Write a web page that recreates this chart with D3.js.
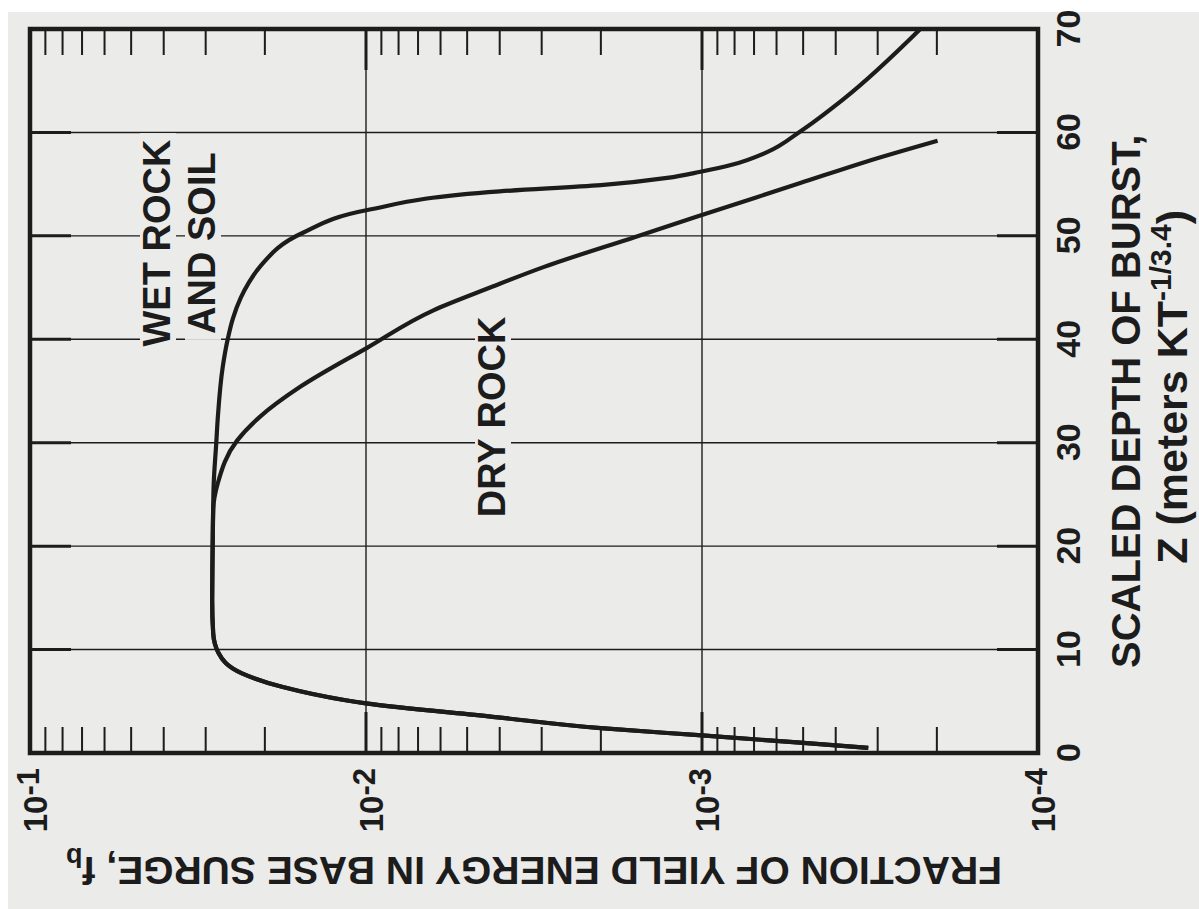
<!DOCTYPE html>
<html>
<head>
<meta charset="utf-8">
<script src="https://cdn.jsdelivr.net/npm/d3@7/dist/d3.min.js"></script>
<style>
  body { margin: 0; background: #fff; }
  svg text { font-family: "Liberation Sans", Arial, Helvetica, sans-serif; font-weight: bold; fill: #1c1c1c; }
</style>
</head>
<body>
<div id="chart"></div>
<script>
// tick labels
var zTicks = [0, 10, 20, 30, 40, 50, 60, 70];
var fTicks = [1e-1, 1e-2, 1e-3, 1e-4];
var fTickExp = ["-1", "-2", "-3", "-4"];

// wet rock and soil
var wetZ = [0.5, 1.0, 1.7, 2.4, 3.5, 4.8, 5.1, 6.4, 7.7, 9.7, 11.6, 14.8, 20, 23.5, 26, 30, 32.5, 37.3, 40, 42, 44, 45.5, 47, 50.3, 52.5, 54.3, 54.9, 55.6, 56.2, 56.9, 58.1, 60.1, 63.2, 70];
var wetF = [3.2e-4, 5.1e-4, 1.0e-3, 2.0e-3, 4.2e-3, 1.0e-2, 1.15e-2, 1.78e-2, 2.34e-2, 2.75e-2, 2.85e-2, 2.87e-2, 2.86e-2, 2.85e-2, 2.84e-2, 2.79e-2, 2.76e-2, 2.67e-2, 2.58e-2, 2.49e-2, 2.36e-2, 2.23e-2, 2.07e-2, 1.54e-2, 9.9e-3, 4.0e-3, 2.0e-3, 1.27e-3, 1.01e-3, 8.1e-4, 6.4e-4, 5.1e-4, 3.8e-4, 2.24e-4];

// dry rock
var dryZ = [0.5, 1.0, 1.7, 2.4, 3.5, 4.8, 5.1, 6.4, 7.7, 9.7, 11.6, 14.8, 20, 23.5, 26.1, 30.2, 32.5, 35.4, 39.2, 42.8, 45, 47, 49.9, 51.8, 55.1, 57.2, 59.2];
var dryF = [3.2e-4, 5.1e-4, 1.0e-3, 2.0e-3, 4.2e-3, 1.0e-2, 1.15e-2, 1.78e-2, 2.34e-2, 2.75e-2, 2.85e-2, 2.87e-2, 2.86e-2, 2.85e-2, 2.76e-2, 2.42e-2, 2.07e-2, 1.57e-2, 9.9e-3, 6.3e-3, 4.27e-3, 2.95e-3, 1.58e-3, 1.05e-3, 5.1e-4, 3.23e-4, 1.99e-4];

var width = 1199, height = 909;
var plotW = 724;   // along Z
var plotH = 1008;  // along f (3 decades)
var ink = "#1c1c1c";
var paper = "#ebebea";

var svg = d3.select("#chart").append("svg")
    .attr("width", width)
    .attr("height", height);

// paper of the scan
svg.append("rect")
    .attr("x", 8).attr("y", 12)
    .attr("width", width - 8).attr("height", height - 12)
    .attr("fill", paper);

// the figure is printed turned on its side
var g = svg.append("g").attr("transform", "translate(30,753) rotate(-90)");

var x = d3.scaleLinear().domain([0, 70]).range([0, plotW]);
var y = d3.scaleLog().domain([1e-1, 1e-4]).range([0, plotH]);

// grid lines
var gridZ = zTicks.filter(function(d) { return d > 0 && d < 70; });
var gridF = fTicks.filter(function(d) { return d < 1e-1 && d > 1e-4; });

g.selectAll(".grid-z").data(gridZ).enter().append("line")
    .attr("x1", function(d) { return x(d); })
    .attr("x2", function(d) { return x(d); })
    .attr("y1", 0).attr("y2", plotH)
    .attr("stroke", ink).attr("stroke-width", 1.4);

g.selectAll(".grid-f").data(gridF).enter().append("line")
    .attr("x1", 0).attr("x2", plotW)
    .attr("y1", function(d) { return y(d); })
    .attr("y2", function(d) { return y(d); })
    .attr("stroke", ink).attr("stroke-width", 1.4);

// heavier major ticks at both ends of the grid lines
var majLen = 41;
g.selectAll(".maj-z").data(gridZ).enter().append("path")
    .attr("d", function(d) { return "M" + x(d) + ",0V" + majLen + "M" + x(d) + "," + (plotH - majLen) + "V" + plotH; })
    .attr("stroke", ink).attr("stroke-width", 3);

g.selectAll(".maj-f").data(gridF).enter().append("path")
    .attr("d", function(d) { return "M0," + y(d) + "H" + majLen + "M" + (plotW - majLen) + "," + y(d) + "H" + plotW; })
    .attr("stroke", ink).attr("stroke-width", 3);

// minor log ticks (2..9 of each decade) on both Z edges
var minor = y.ticks().filter(function(d) {
    var e = Math.log10(d);
    return Math.abs(e - Math.round(e)) > 1e-6;
});
var minLen = 26;
g.selectAll(".minor").data(minor).enter().append("path")
    .attr("d", function(d) { return "M0," + y(d) + "H" + minLen + "M" + (plotW - minLen) + "," + y(d) + "H" + plotW; })
    .attr("stroke", ink).attr("stroke-width", 2);

// curve labels with paper behind them (they break the grid lines)
var labels = [
    { text: "WET ROCK", z: 49.3, dy: 140 },
    { text: "AND SOIL", z: 49.3, dy: 185 },
    { text: "DRY ROCK", z: 32.5, dy: 475 }
];
var lab = g.selectAll(".lab").data(labels).enter().append("text")
    .attr("x", function(d) { return x(d.z); })
    .attr("y", function(d) { return d.dy; })
    .attr("text-anchor", "middle")
    .style("font-size", "38px")
    .text(function(d) { return d.text; });
lab.each(function() {
    var b = this.getBBox();
    g.insert("rect", function() { return lab.node(); })
        .attr("x", b.x - 6).attr("y", b.y + 4)
        .attr("width", b.width + 12).attr("height", b.height - 6)
        .attr("fill", paper);
});

// curves
var line = d3.line()
    .x(function(d) { return x(d[0]); })
    .y(function(d) { return y(d[1]); })
    .curve(d3.curveMonotoneX);

g.append("path")
    .datum(d3.zip(wetZ, wetF))
    .attr("d", line)
    .attr("fill", "none").attr("stroke", ink).attr("stroke-width", 4.2);

g.append("path")
    .datum(d3.zip(dryZ, dryF))
    .attr("d", line)
    .attr("fill", "none").attr("stroke", ink).attr("stroke-width", 4.2);

// frame
g.append("rect")
    .attr("x", 0).attr("y", 0)
    .attr("width", plotW).attr("height", plotH)
    .attr("fill", "none").attr("stroke", ink).attr("stroke-width", 4.5);

// Z axis labels
var zAxis = d3.axisBottom(x).tickValues(zTicks).tickSize(0).tickPadding(18);
var za = g.append("g").attr("transform", "translate(0," + plotH + ")").call(zAxis);
za.select(".domain").remove();
za.selectAll("text").attr("fill", ink).style("font-size", "34px");

// f axis labels, 10 with a raised exponent
var fAxis = d3.axisLeft(y).tickValues(fTicks).tickSize(0).tickPadding(15);
var fa = g.append("g").call(fAxis);
fa.select(".domain").remove();
fa.selectAll("text")
    .attr("fill", ink)
    .attr("dy", "0.5em")
    .style("font-size", "33px")
    .text("10")
    .append("tspan")
    .attr("dy", -8)
    .style("font-size", "31px")
    .text(function(d, i) { return fTickExp[fTicks.indexOf(d)]; });

// axis titles
g.append("text")
    .attr("x", x(34)).attr("y", plotH + 102)
    .attr("text-anchor", "middle")
    .style("font-size", "40px")
    .text("SCALED DEPTH OF BURST,");

var t2 = g.append("text")
    .attr("x", x(35.4)).attr("y", plotH + 149)
    .attr("text-anchor", "middle")
    .style("font-size", "43px")
    .text("Z (meters KT");
t2.append("tspan").attr("dy", -16).style("font-size", "30px").text("-1/3.4");
t2.append("tspan").attr("dy", 16).style("font-size", "43px").text(")");

var t3 = g.append("text")
    .attr("transform", "translate(-104," + y(Math.pow(10, -2.5)) + ") rotate(-90)")
    .attr("text-anchor", "middle")
    .style("font-size", "39px")
    .text("FRACTION OF YIELD ENERGY IN BASE SURGE, f");
t3.append("tspan").attr("dy", 9).style("font-size", "27px").text("b");
</script>
</body>
</html>
